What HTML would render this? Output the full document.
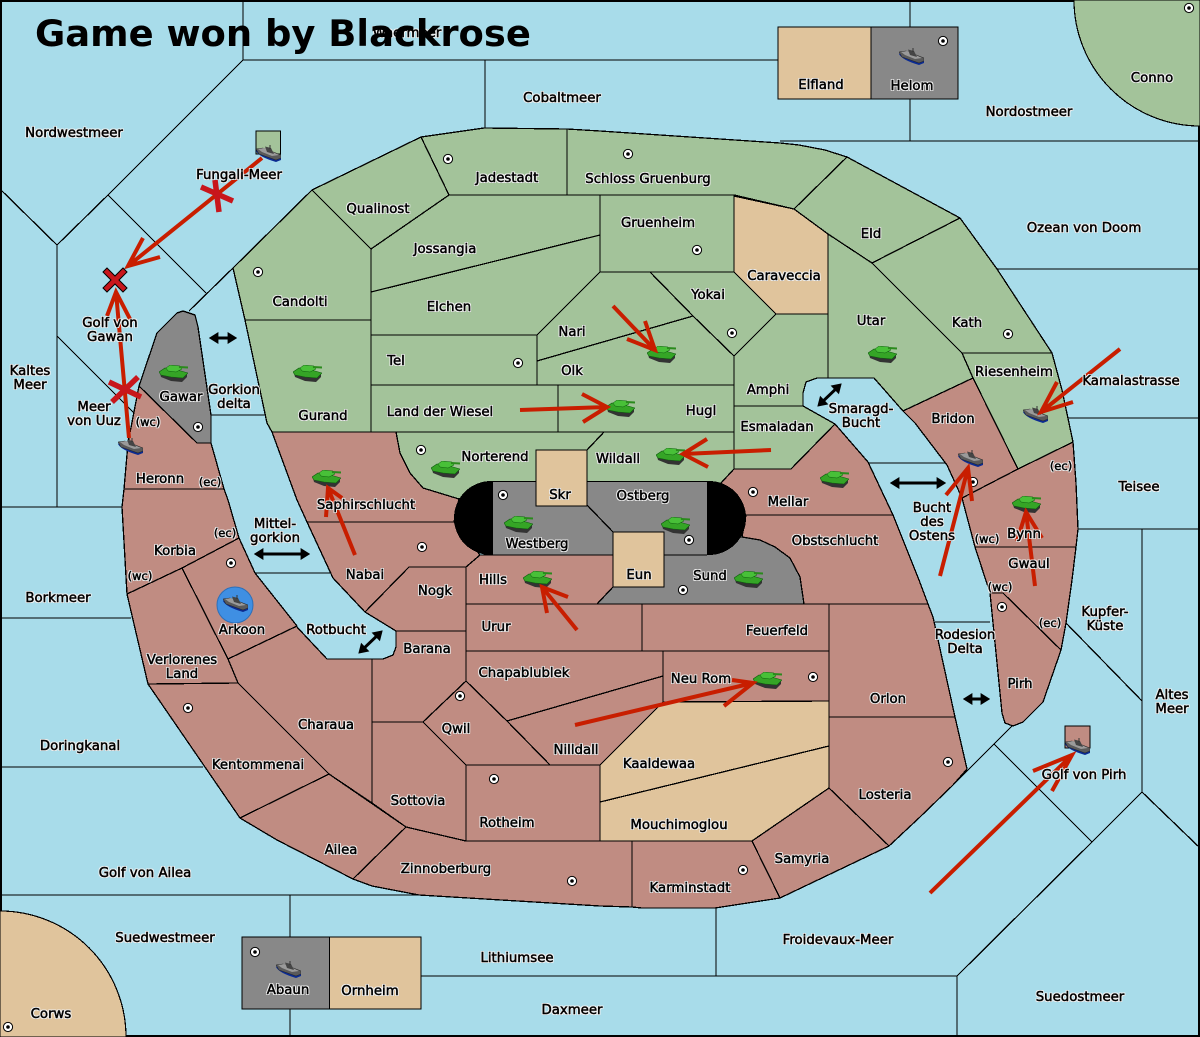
<!DOCTYPE html>
<html><head><meta charset="utf-8"><title>Game won by Blackrose</title>
<style>
html,body{margin:0;padding:0;background:#a8dcea;overflow:hidden;width:1200px;height:1037px}
#m{position:relative;width:1200px;height:1037px;overflow:hidden;font-family:"DejaVu Sans",sans-serif}
svg{position:absolute;left:0;top:0}
.l{position:absolute;transform:translate(-50%,calc(-50% + 2px));font-size:13.3px;line-height:14px;text-align:center;white-space:nowrap;color:#000;-webkit-text-stroke:.5px #000;text-shadow:1px 0 0 #f0f0f0,-1px 0 0 #f0f0f0,0 1px 0 #f0f0f0,0 -1px 0 #f0f0f0,1px 1px 0 #f0f0f0,-1px -1px 0 #f0f0f0,1px -1px 0 #f0f0f0,-1px 1px 0 #f0f0f0}
.s{font-size:11.5px}
</style></head><body><div id="m">
<svg width="1200" height="1037" viewBox="0 0 1200 1037" xmlns="http://www.w3.org/2000/svg">
<defs>
<symbol id="t" viewBox="0 0 29 17">
<polygon points="1,8 24,12 28,9 28,12 23,17 12,16 2,12" fill="#333"/>
<polygon points="0,7 6,3 22,6 29,8 24,13 12,12 2,10" fill="#35a526" stroke="#0d5e0d" stroke-width=".6"/>
<polygon points="7,3 11,0 21,1 23,4 17,7 9,6" fill="#48c038" stroke="#0d5e0d" stroke-width=".5"/>
<line x1="20" y1="2" x2="29" y2="2.5" stroke="#2a8a1c" stroke-width="2"/>
</symbol>
<symbol id="b" viewBox="0 0 25 17">
<path d="M0,6 Q3,12 20,17 L25,15 L25,12 L1,5z" fill="#0b2b92"/>
<polygon points="0,4 7,3 25,10 25,13 20,15 3,9" fill="#5a5a5a" stroke="#222" stroke-width=".5"/>
<polygon points="2,4 8,3 23,10 16,11 6,7" fill="#9a9a9a"/>
<polygon points="9,1.5 15,3 18,9 11,7" fill="#454545"/>
<line x1="14" y1="0" x2="14" y2="4" stroke="#333" stroke-width="1"/>
</symbol>
<g id="d"><circle r="4.6" fill="#fff" stroke="#000" stroke-width="1"/><circle r="1.8" fill="#000"/></g>
<marker id="ah" viewBox="0 0 10 10" refX="4" refY="5" markerWidth="4" markerHeight="4" orient="auto-start-reverse"><path d="M2,0L10,5L2,10z" fill="#000"/></marker>
</defs>
<rect x="1" y="1" width="1198" height="1035" fill="#a8dcea" stroke="#000" stroke-width="2"/>
<g shape-rendering="crispEdges">
<g fill="none" stroke="#000" stroke-width="1.3">
<path d="M243,0V60H778M485,60V128M243,60L108,195L57,245L0,189M108,195L206,293M189,311L233,268M57,245V507M57,336L135,414M0,507H122M0,618H131M0,767H203M0,895H419M290,895V1037M421,976H957V1037M716,908V976M957,976L1092,842L1142,792L1200,848M1142,792V529M1078,529H1200M1068,418H1200M997,269H1200M780,141H1200M910,0V141M1066,623L1142,701M1012,726L953,785M994,744L1092,842M211,415H266M255,573H332M868,463H945M935,622H990"/>
</g>
<path d="M1074,0A126,126 0 0 0 1200,126L1200,0Z" fill="#a3c39a" stroke="#000" stroke-width="1.2"/>
<path d="M0,911A126,126 0 0 1 126,1037L0,1037Z" fill="#e0c49c" stroke="#000" stroke-width="1.2"/>
<g stroke="#000" stroke-width="1.3" stroke-linejoin="round">
<g fill="#a3c39a">
<polygon points="233,268 312,190 371,249 371,320 245,320"/>
<polygon points="312,190 421,137 449,195 371,249"/>
<polygon points="421,137 484,128 567,129 567,195 449,195"/>
<polygon points="567,129 600,131 780,143 799,145 825,150 847,157 794,209 734,195 567,195"/>
<polygon points="449,195 600,195 600,235 371,292 371,249"/>
<polygon points="371,292 600,235 600,272 537,335 371,335"/>
<rect x="600" y="195" width="134" height="77"/>
<polygon points="847,157 960,218 872,263 828,234 794,209"/>
<polygon points="960,218 997,269 1052,353 962,353 917,308 872,263"/>
<polygon points="828,234 872,263 917,308 962,353 973,378 903,411 874,378 828,378"/>
<polygon points="962,353 1052,353 1062,390 1073,442 1018,469 973,378"/>
<polygon points="776,314 828,314 828,378 817,378 806,382 803,393 803,406 734,406 734,356"/>
<polygon points="734,406 803,406 835,424 791,469 734,469 721,483 734,469"/>
<polygon points="650,272 734,272 776,314 734,356 693,316"/>
<polygon points="600,272 650,272 693,316 537,361 537,335"/>
<polygon points="537,361 693,316 734,356 734,385 537,385"/>
<rect x="371" y="335" width="166" height="50"/>
<rect x="371" y="385" width="187" height="47"/>
<rect x="558" y="385" width="176" height="47"/>
<polygon points="245,320 371,320 371,432 272,432 267,423"/>
<polygon points="604,432 734,432 734,469 721,483 587,483 587,450"/>
<polygon points="396,432 604,432 587,450 536,450 536,483 493,483 459,499 423,488 410,473 400,453"/>
</g>
<polygon points="734,196 794,209 828,234 828,314 776,314 734,272" fill="#e0c49c"/>
<g fill="#c08c82">
<polygon points="721,483 734,469 791,469 835,424 868,462 893,515 746,515"/>
<polygon points="746,515 893,515 919,580 928,604 804,604 800,577 790,558 775,547 760,540 742,537"/>
<rect x="642" y="604" width="187" height="47"/>
<rect x="466" y="604" width="176" height="47"/>
<polygon points="466,567 480,555 613,555 613,587 597,604 466,604"/>
<polygon points="409,567 466,567 466,631 396,631 365,612"/>
<polygon points="396,631 466,631 466,681 423,722 372,722 372,659 383,659 393,655 396,647"/>
<polygon points="466,651 663,651 663,676 507,721 466,681"/>
<rect x="663" y="651" width="166" height="51"/>
<polygon points="507,721 663,676 663,702 600,765 550,765"/>
<polygon points="466,681 507,721 550,765 466,765 423,722"/>
<rect x="466" y="765" width="134" height="76"/>
<polygon points="372,722 423,722 466,765 466,841 406,827 372,803"/>
<polygon points="228,659 296,626 327,659 372,659 372,803 329,774 285,730 238,683"/>
<polygon points="182,568 239,538 255,573 297,626 228,659"/>
<polygon points="124,489 224,489 228,500 239,538 182,568 127,594 122,507"/>
<polygon points="139,386 197,443 211,443 224,489 124,489 128,443"/>
<polygon points="127,594 182,568 228,659 238,683 148,684"/>
<polygon points="148,684 238,683 285,730 329,774 240,818"/>
<polygon points="240,818 329,774 406,827 353,879 277,840"/>
<polygon points="353,879 406,827 466,841 632,841 632,907 600,906 419,895 372,886"/>
<polygon points="632,841 752,841 780,898 715,908 642,908 632,907"/>
<polygon points="752,841 829,788 889,846 780,898"/>
<polygon points="829,717 955,717 967,769 953,785 920,817 889,846 829,788"/>
<polygon points="829,604 928,604 933,617 955,717 829,717"/>
<polygon points="307,522 454,522 480,555 466,567 409,567 365,612 333,578"/>
<polygon points="272,432 396,432 400,453 410,473 423,488 459,499 454,522 307,522 297,500"/>
<polygon points="903,411 973,378 1018,469 962,498 947,465 915,423"/>
<polygon points="962,498 1018,469 1073,442 1076,483 1078,529 1076,547 975,547"/>
<polygon points="975,547 1076,547 1072,580 1066,623 1061,650 1003,593 990,593"/>
<polygon points="990,593 1003,593 1061,650 1043,702 1023,722 1013,726 1005,723 1002,713"/>
</g>
<g fill="#e0c49c">
<polygon points="663,702 829,701 829,746 600,802 600,765"/>
<polygon points="600,802 829,746 829,788 752,841 600,841"/>
<rect x="778" y="27" width="93" height="72"/>
<rect x="329.5" y="937" width="91.5" height="72"/>
</g>
<g fill="#888">
<polygon points="139,386 157,333 177,313 183,311 195,315 198,327 211,415 211,443 197,443"/>
<polygon points="613,587 597,604 804,604 800,577 790,558 775,547 760,540 742,537 700,540 664,555 613,555"/>
<rect x="871" y="27" width="87" height="72"/>
<rect x="242" y="937" width="87.5" height="72"/>
</g>
<rect x="256" y="131" width="24.5" height="23" fill="#a3c39a"/>
<rect x="1065" y="726" width="25" height="22" fill="#c08c82"/>
</g>
<rect x="454" y="481" width="292" height="74" rx="37" ry="37" fill="#000"/>
<rect x="493" y="482" width="214" height="73" fill="#888"/>
<g stroke="#000" stroke-width="1.3">
<line x1="493" y1="555" x2="707" y2="555"/>
<line x1="587" y1="505" x2="613" y2="532"/>
<rect x="536" y="450" width="51" height="56" fill="#e0c49c"/>
<rect x="613" y="532" width="51" height="55" fill="#e0c49c"/>
</g>
</g>
<g>
<circle cx="235" cy="605" r="18" fill="#3f8fe3" stroke="#2d6fb8"/>
<use href="#t" x="159" y="365" width="29" height="17"/>
<use href="#t" x="293" y="365" width="29" height="17"/>
<use href="#t" x="312" y="470" width="29" height="17"/>
<use href="#t" x="431" y="461" width="29" height="17"/>
<use href="#t" x="647" y="346" width="29" height="17"/>
<use href="#t" x="606" y="400" width="29" height="17"/>
<use href="#t" x="656" y="448" width="29" height="17"/>
<use href="#t" x="504" y="516" width="29" height="17"/>
<use href="#t" x="661" y="517" width="29" height="17"/>
<use href="#t" x="523" y="571" width="29" height="17"/>
<use href="#t" x="734" y="571" width="29" height="17"/>
<use href="#t" x="753" y="672" width="29" height="17"/>
<use href="#t" x="868" y="346" width="29" height="17"/>
<use href="#t" x="820" y="471" width="29" height="17"/>
<use href="#t" x="1012" y="496" width="29" height="17"/>
<use href="#b" x="256" y="145" width="25" height="17"/>
<use href="#b" x="118" y="438" width="25" height="17"/>
<use href="#b" x="223" y="595" width="25" height="17"/>
<use href="#b" x="899" y="48" width="25" height="17"/>
<use href="#b" x="276" y="961" width="25" height="17"/>
<use href="#b" x="1023" y="406" width="25" height="17"/>
<use href="#b" x="958" y="450" width="25" height="17"/>
<use href="#b" x="1065" y="738" width="25" height="17"/>
<use href="#d" x="258" y="272"/><use href="#d" x="448" y="159"/><use href="#d" x="628" y="154"/><use href="#d" x="697" y="250"/><use href="#d" x="732" y="333"/><use href="#d" x="518" y="363"/><use href="#d" x="421" y="450"/><use href="#d" x="503" y="495"/><use href="#d" x="689" y="540"/><use href="#d" x="683" y="590"/><use href="#d" x="753" y="492"/><use href="#d" x="422" y="547"/><use href="#d" x="231" y="563"/><use href="#d" x="198" y="427"/><use href="#d" x="188" y="708"/><use href="#d" x="460" y="696"/><use href="#d" x="494" y="779"/><use href="#d" x="572" y="881"/><use href="#d" x="743" y="870"/><use href="#d" x="813" y="677"/><use href="#d" x="948" y="762"/><use href="#d" x="1008" y="334"/><use href="#d" x="973" y="482"/><use href="#d" x="1002" y="607"/><use href="#d" x="943" y="41"/><use href="#d" x="1189" y="8"/><use href="#d" x="255" y="952"/><use href="#d" x="8" y="1027"/>
</g>
<g fill="none" stroke="#000" stroke-width="3" marker-start="url(#ah)" marker-end="url(#ah)">
<line x1="216" y1="338" x2="230" y2="338"/>
<line x1="897" y1="483" x2="939" y2="483"/>
<line x1="261" y1="554" x2="303" y2="554"/>
<line x1="970" y1="699" x2="983" y2="699"/>
<line x1="822.5" y1="401.7" x2="836.5" y2="388.3"/>
<line x1="363.5" y1="648.7" x2="377.5" y2="635.3"/>
</g>
<g fill="none" stroke="#c81e00" stroke-width="4">
<path d="M262,158L128,266M143,238L128,266L160,257"/>
<path d="M129,438L116,292M107,316L116,292L130,319"/>
<path d="M613,306L655,350M645,321L655,350L627,339"/>
<path d="M520,410L607,407M582,394L607,407L583,422"/>
<path d="M771,450L683,454M707,439L683,454L708,467"/>
<path d="M355,555L328,488M342,498L328,488L326,517"/>
<path d="M577,630L542,587M568,597L542,587L547,613"/>
<path d="M575,725L753,683M732,680L753,683L724,706"/>
<path d="M1120,349L1041,412M1057,382L1041,412L1073,402"/>
<path d="M940,576L968,468M946,495L968,468L972,501"/>
<path d="M1035,586L1026,512M1017,541L1026,512L1042,538"/>
<path d="M930,893L1072,755M1033,771L1072,755L1052,791"/>
</g>
<g stroke="#c8161c" stroke-width="5.5" fill="none">
<path d="M201,187L233,201M215,180L219,212"/>
<path d="M109,382L141,397M112,402L138,377"/>
</g>
<path d="M107,268L115,276L123,268L127,272L119,280L127,288L123,292L115,284L107,292L103,288L111,280L103,272Z" fill="#c8161c" stroke="#000" stroke-width="1"/>
</svg>
<div class="l" style="left:407px;top:32px">Waermeer</div>
<div style="position:absolute;left:35px;top:12px;font:bold 36.9px/44px 'DejaVu Sans',sans-serif;color:#000;white-space:nowrap">Game won by Blackrose</div>
<div class="l" style="left:74px;top:132px">Nordwestmeer</div>
<div class="l" style="left:239px;top:174px">Fungali-Meer</div>
<div class="l" style="left:110px;top:329px">Golf von<br>Gawan</div>
<div class="l" style="left:30px;top:377px">Kaltes<br>Meer</div>
<div class="l" style="left:94px;top:413px">Meer<br>von Uuz</div>
<div class="l s" style="left:148px;top:420px">(wc)</div>
<div class="l" style="left:181px;top:396px">Gawar</div>
<div class="l" style="left:234px;top:396px">Gorkion<br>delta</div>
<div class="l" style="left:160px;top:478px">Heronn</div>
<div class="l s" style="left:210px;top:480px">(ec)</div>
<div class="l" style="left:175px;top:550px">Korbia</div>
<div class="l s" style="left:225px;top:531px">(ec)</div>
<div class="l s" style="left:140px;top:574px">(wc)</div>
<div class="l" style="left:275px;top:530px">Mittel-<br>gorkion</div>
<div class="l" style="left:58px;top:597px">Borkmeer</div>
<div class="l" style="left:242px;top:629px">Arkoon</div>
<div class="l" style="left:182px;top:666px">Verlorenes<br>Land</div>
<div class="l" style="left:336px;top:629px">Rotbucht</div>
<div class="l" style="left:80px;top:745px">Doringkanal</div>
<div class="l" style="left:326px;top:724px">Charaua</div>
<div class="l" style="left:258px;top:764px">Kentommenai</div>
<div class="l" style="left:341px;top:849px">Ailea</div>
<div class="l" style="left:145px;top:872px">Golf von Ailea</div>
<div class="l" style="left:446px;top:868px">Zinnoberburg</div>
<div class="l" style="left:165px;top:937px">Suedwestmeer</div>
<div class="l" style="left:517px;top:957px">Lithiumsee</div>
<div class="l" style="left:288px;top:989px">Abaun</div>
<div class="l" style="left:370px;top:990px">Ornheim</div>
<div class="l" style="left:51px;top:1013px">Corws</div>
<div class="l" style="left:572px;top:1009px">Daxmeer</div>
<div class="l" style="left:838px;top:939px">Froidevaux-Meer</div>
<div class="l" style="left:1080px;top:996px">Suedostmeer</div>
<div class="l" style="left:690px;top:887px">Karminstadt</div>
<div class="l" style="left:802px;top:858px">Samyria</div>
<div class="l" style="left:885px;top:794px">Losteria</div>
<div class="l" style="left:679px;top:824px">Mouchimoglou</div>
<div class="l" style="left:659px;top:763px">Kaaldewaa</div>
<div class="l" style="left:576px;top:749px">Nilldall</div>
<div class="l" style="left:507px;top:822px">Rotheim</div>
<div class="l" style="left:418px;top:800px">Sottovia</div>
<div class="l" style="left:456px;top:728px">Qwil</div>
<div class="l" style="left:427px;top:648px">Barana</div>
<div class="l" style="left:435px;top:590px">Nogk</div>
<div class="l" style="left:365px;top:574px">Nabai</div>
<div class="l" style="left:493px;top:579px">Hills</div>
<div class="l" style="left:496px;top:626px">Urur</div>
<div class="l" style="left:524px;top:672px">Chapablublek</div>
<div class="l" style="left:701px;top:678px">Neu Rom</div>
<div class="l" style="left:777px;top:630px">Feuerfeld</div>
<div class="l" style="left:888px;top:698px">Orlon</div>
<div class="l" style="left:965px;top:641px">Rodesion<br>Delta</div>
<div class="l" style="left:1020px;top:683px">Pirh</div>
<div class="l" style="left:710px;top:575px">Sund</div>
<div class="l" style="left:639px;top:574px">Eun</div>
<div class="l" style="left:537px;top:543px">Westberg</div>
<div class="l" style="left:560px;top:494px">Skr</div>
<div class="l" style="left:643px;top:495px">Ostberg</div>
<div class="l" style="left:835px;top:540px">Obstschlucht</div>
<div class="l" style="left:788px;top:501px">Mellar</div>
<div class="l" style="left:366px;top:504px">Saphirschlucht</div>
<div class="l" style="left:495px;top:456px">Norterend</div>
<div class="l" style="left:618px;top:458px">Wildall</div>
<div class="l" style="left:777px;top:426px">Esmaladan</div>
<div class="l" style="left:861px;top:415px">Smaragd-<br>Bucht</div>
<div class="l" style="left:768px;top:389px">Amphi</div>
<div class="l" style="left:440px;top:411px">Land der Wiesel</div>
<div class="l" style="left:701px;top:410px">Hugl</div>
<div class="l" style="left:396px;top:360px">Tel</div>
<div class="l" style="left:572px;top:370px">Olk</div>
<div class="l" style="left:572px;top:331px">Nari</div>
<div class="l" style="left:449px;top:306px">Elchen</div>
<div class="l" style="left:445px;top:248px">Jossangia</div>
<div class="l" style="left:300px;top:301px">Candolti</div>
<div class="l" style="left:323px;top:415px">Gurand</div>
<div class="l" style="left:378px;top:208px">Qualinost</div>
<div class="l" style="left:507px;top:177px">Jadestadt</div>
<div class="l" style="left:648px;top:178px">Schloss Gruenburg</div>
<div class="l" style="left:562px;top:97px">Cobaltmeer</div>
<div class="l" style="left:658px;top:222px">Gruenheim</div>
<div class="l" style="left:784px;top:275px">Caraveccia</div>
<div class="l" style="left:708px;top:294px">Yokai</div>
<div class="l" style="left:871px;top:233px">Eld</div>
<div class="l" style="left:871px;top:320px">Utar</div>
<div class="l" style="left:967px;top:322px">Kath</div>
<div class="l" style="left:1014px;top:371px">Riesenheim</div>
<div class="l" style="left:953px;top:418px">Bridon</div>
<div class="l" style="left:1131px;top:380px">Kamalastrasse</div>
<div class="l" style="left:1084px;top:227px">Ozean von Doom</div>
<div class="l" style="left:1029px;top:111px">Nordostmeer</div>
<div class="l" style="left:1152px;top:77px">Conno</div>
<div class="l" style="left:821px;top:84px">Elfland</div>
<div class="l" style="left:912px;top:85px">Helom</div>
<div class="l" style="left:1139px;top:486px">Teisee</div>
<div class="l" style="left:932px;top:521px">Bucht<br>des<br>Ostens</div>
<div class="l" style="left:1024px;top:533px">Bynn</div>
<div class="l s" style="left:987px;top:537px">(wc)</div>
<div class="l s" style="left:1061px;top:464px">(ec)</div>
<div class="l" style="left:1029px;top:563px">Gwaul</div>
<div class="l s" style="left:1000px;top:585px">(wc)</div>
<div class="l s" style="left:1050px;top:621px">(ec)</div>
<div class="l" style="left:1105px;top:618px">Kupfer-<br>Küste</div>
<div class="l" style="left:1172px;top:701px">Altes<br>Meer</div>
<div class="l" style="left:1084px;top:774px">Golf von Pirh</div>
</div></body></html>
